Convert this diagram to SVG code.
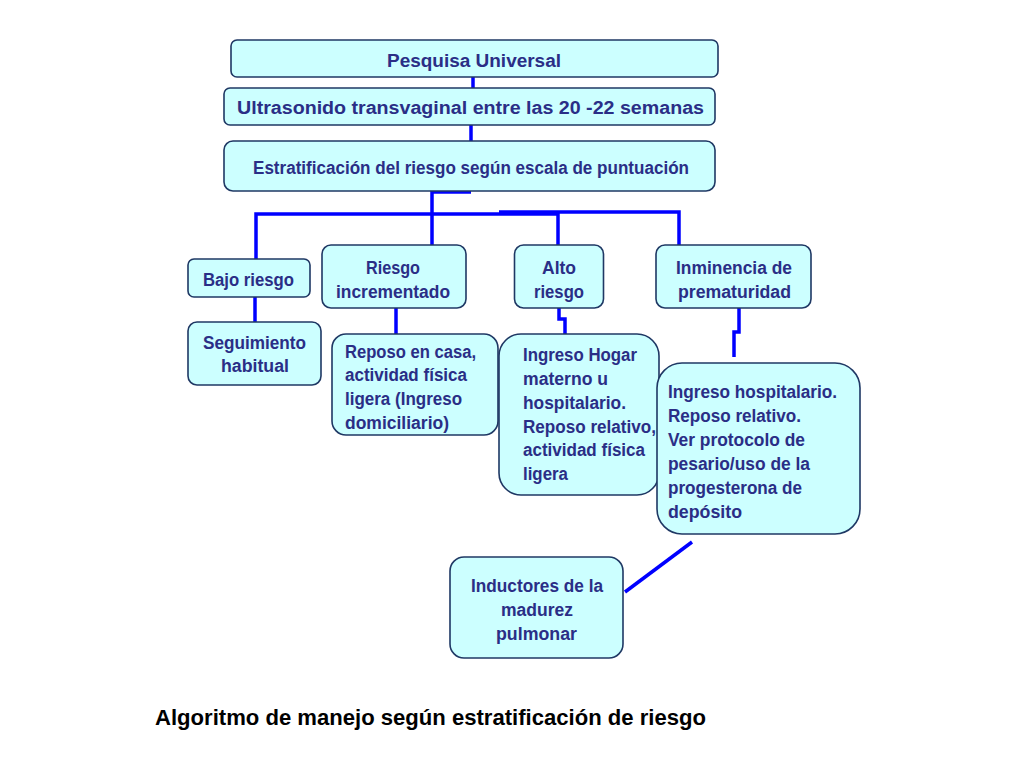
<svg xmlns="http://www.w3.org/2000/svg" width="1024" height="768" viewBox="0 0 1024 768">
<style>
.box{fill:#CCFFFF;stroke:#1F3864;stroke-width:1.6}
.t{font-family:"Liberation Sans",Arial,sans-serif;font-weight:bold;fill:#2A2E86;font-size:18px}
.c{text-anchor:middle}
.conn{stroke:#0000FF;stroke-width:3.5;fill:none}
</style>
<rect width="1024" height="768" fill="#FFFFFF"/>
<g id="connectors">
<line class="conn" x1="473" y1="77" x2="473" y2="88"/>
<line class="conn" x1="471" y1="125" x2="471" y2="141"/>
<polyline class="conn" points="471,192 432,192 432,245"/>
<polyline class="conn" points="256,259 256,214 558,214"/>
<polyline class="conn" points="499,212 679,212 679,245"/>
<line class="conn" x1="558" y1="212" x2="558" y2="245"/>
<line class="conn" x1="255" y1="297" x2="255" y2="322"/>
<line class="conn" x1="396" y1="308" x2="396" y2="334"/>
<polyline class="conn" points="559,308 559,319 565,319 565,334"/>
<polyline class="conn" points="739,308 739,332 734,332 734,357"/>
<line class="conn" x1="692" y1="542" x2="625" y2="592"/>
</g>
<g id="pesquisa">
<rect class="box" x="231" y="40" width="487" height="37" rx="6"/>
<text class="t c" x="474" y="67" font-size="19.5" textLength="174" lengthAdjust="spacingAndGlyphs">Pesquisa Universal</text>
</g>
<g id="ultrasonido">
<rect class="box" x="224" y="88" width="491" height="37" rx="6"/>
<text class="t c" x="470.5" y="114" font-size="21" textLength="467" lengthAdjust="spacingAndGlyphs">Ultrasonido transvaginal entre las 20 -22 semanas</text>
</g>
<g id="estratificacion">
<rect class="box" x="224" y="141" width="491" height="50" rx="9"/>
<text class="t c" x="471" y="174" font-size="18.5" textLength="436" lengthAdjust="spacingAndGlyphs">Estratificación del riesgo según escala de puntuación</text>
</g>
<g id="bajo">
<rect class="box" x="188" y="259" width="122" height="38" rx="6"/>
<text class="t c" x="248.5" y="286" font-size="18" textLength="91" lengthAdjust="spacingAndGlyphs">Bajo riesgo</text>
</g>
<g id="incrementado">
<rect class="box" x="322" y="245" width="144" height="63" rx="9"/>
<text class="t c" x="393" y="274" textLength="54" lengthAdjust="spacingAndGlyphs">Riesgo</text>
<text class="t c" x="393" y="298" textLength="114" lengthAdjust="spacingAndGlyphs">incrementado</text>
</g>
<g id="alto">
<rect class="box" x="514.5" y="245" width="89" height="63" rx="9"/>
<text class="t c" x="559" y="274" textLength="34" lengthAdjust="spacingAndGlyphs">Alto</text>
<text class="t c" x="559" y="298" textLength="50" lengthAdjust="spacingAndGlyphs">riesgo</text>
</g>
<g id="inminencia">
<rect class="box" x="656" y="245" width="155" height="63" rx="9"/>
<text class="t c" x="734" y="274" textLength="116" lengthAdjust="spacingAndGlyphs">Inminencia de</text>
<text class="t c" x="734.5" y="298" textLength="113" lengthAdjust="spacingAndGlyphs">prematuridad</text>
</g>
<g id="seguimiento">
<rect class="box" x="188" y="322" width="133" height="63" rx="9"/>
<text class="t c" x="254.5" y="349" textLength="103" lengthAdjust="spacingAndGlyphs">Seguimiento</text>
<text class="t c" x="255" y="372" textLength="68" lengthAdjust="spacingAndGlyphs">habitual</text>
</g>
<g id="reposo-casa">
<rect class="box" x="332" y="334" width="166" height="101" rx="14"/>
<text class="t" x="345" y="358" textLength="131" lengthAdjust="spacingAndGlyphs">Reposo en casa,</text>
<text class="t" x="345" y="381" textLength="122" lengthAdjust="spacingAndGlyphs">actividad física</text>
<text class="t" x="345" y="405" textLength="117" lengthAdjust="spacingAndGlyphs">ligera (Ingreso</text>
<text class="t" x="345" y="429" textLength="104" lengthAdjust="spacingAndGlyphs">domiciliario)</text>
</g>
<g id="ingreso-hogar">
<rect class="box" x="499" y="334" width="160" height="161" rx="22"/>
<text class="t" x="523" y="361" textLength="114" lengthAdjust="spacingAndGlyphs">Ingreso Hogar</text>
<text class="t" x="523" y="385" textLength="85" lengthAdjust="spacingAndGlyphs">materno u</text>
<text class="t" x="523" y="409" textLength="103" lengthAdjust="spacingAndGlyphs">hospitalario.</text>
<text class="t" x="523" y="433" textLength="133" lengthAdjust="spacingAndGlyphs">Reposo relativo,</text>
<text class="t" x="523" y="456" textLength="122" lengthAdjust="spacingAndGlyphs">actividad física</text>
<text class="t" x="523" y="480" textLength="45" lengthAdjust="spacingAndGlyphs">ligera</text>
</g>
<g id="ingreso-hospitalario">
<rect class="box" x="657" y="363" width="203" height="171" rx="25"/>
<text class="t" x="668" y="398" textLength="169" lengthAdjust="spacingAndGlyphs">Ingreso hospitalario.</text>
<text class="t" x="668" y="422" textLength="133" lengthAdjust="spacingAndGlyphs">Reposo relativo.</text>
<text class="t" x="668" y="446" textLength="137" lengthAdjust="spacingAndGlyphs">Ver protocolo de</text>
<text class="t" x="668" y="470" textLength="142" lengthAdjust="spacingAndGlyphs">pesario/uso de la</text>
<text class="t" x="668" y="494" textLength="134" lengthAdjust="spacingAndGlyphs">progesterona de</text>
<text class="t" x="668" y="518" textLength="74" lengthAdjust="spacingAndGlyphs">depósito</text>
</g>
<g id="inductores">
<rect class="box" x="450" y="557" width="173" height="101" rx="14"/>
<text class="t c" x="537" y="592" textLength="132" lengthAdjust="spacingAndGlyphs">Inductores de la</text>
<text class="t c" x="537" y="616" textLength="72" lengthAdjust="spacingAndGlyphs">madurez</text>
<text class="t c" x="536.5" y="640" textLength="81" lengthAdjust="spacingAndGlyphs">pulmonar</text>
</g>
<g id="caption">
<text x="155" y="725" font-family="Liberation Sans,Arial,sans-serif" font-weight="bold" font-size="22" fill="#000000" textLength="551" lengthAdjust="spacingAndGlyphs">Algoritmo de manejo según estratificación de riesgo</text>
</g>
</svg>
